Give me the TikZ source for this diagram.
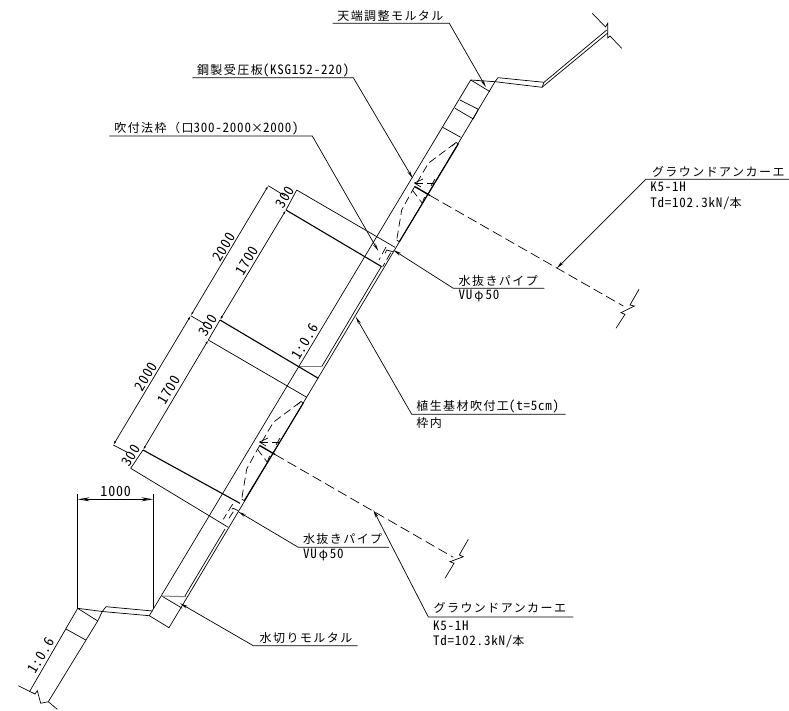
\documentclass[tikz,border=0pt]{standalone}
\usepackage{fontspec}
\usetikzlibrary{arrows.meta}
\newfontfamily\jpfont[LetterSpace=12]{Noto Sans CJK JP}
\newfontfamily\hwfont[RawFeature=+hwid,LetterSpace=6]{Noto Sans CJK JP}
\newcommand{\hw}[1]{{\hwfont\fontsize{13}{14}\selectfont #1}}
\tikzset{
    jplabel/.style={anchor=west, inner sep=0pt, font=\fontsize{12}{14}\selectfont\jpfont},
    numlabel/.style={inner sep=0pt, font=\fontsize{14}{15}\selectfont\hwfont},
    dimlabel/.style={numlabel, rotate=59},
    leader/.style={-{Stealth[open, length=8pt, width=3pt]}},
    dimtip/.style={{Latex[length=4pt, width=2pt]}-{Latex[length=4pt, width=2pt]}},
    bold/.style={line width=1.1pt},
    anchorline/.style={dash pattern=on 10pt off 4.5pt},
    hidden/.style={dash pattern=on 8pt off 4pt}
}

\begin{document}
\begin{tikzpicture}[x=1pt, y=-1pt, line width=0.7pt]
    \useasboundingbox (0,0) rectangle (789,711);

    % slope frame
    \draw (470.7,80) -- (149.3,615.7) -- (169,627.7) -- (495,81.7);
    \draw (470.7,80) -- (490,91.7);
    \draw (460,100) -- (478.3,109.3) -- (473.3,119) -- (455,108.3);
    \draw (442.7,127.3) -- (460.7,137.3);
    \draw (161.7,596) -- (182.3,608.3);
    \draw (321.7,366.7) -- (381,267);
    \draw (184.5,596.7) -- (225,529);
    \draw [gray, line width=1pt] (298,366.7) -- (321.7,366.7);
    \draw [gray, line width=1pt] (161.7,596) -- (186,596.7);

    % top berm
    \draw (470.7,80) -- (495,81.7) -- (542,87.3) -- (607.7,33);
    \draw (495,81.7) -- (498,77.7) -- (544,82.3) -- (606.7,30);
    \draw (544,82.3) -- (542,87.3);
    \draw (592.3,13.3) -- (605.5,27) -- (607.7,23.3) -- (607.7,38) -- (610,36) -- (621.7,48.3);

    % bottom berm
    \draw (149.3,615.7) -- (102.3,611.5) -- (77.7,608.3) -- (29.3,692);
    \draw (152.7,611) -- (106,606.7) -- (102.3,611.5) -- (97.7,621) -- (48.3,701.7);
    \draw (77.7,608.3) -- (97.7,621);
    \draw (66,629) -- (85.7,640);
    \draw (18.3,685.7) -- (35,694) -- (37.3,690.7) -- (40.7,703.3) -- (48.3,701.7) -- (57.3,709.3);

    % beams
    \draw (296.7,190) -- (395,247.3);
    \draw [bold] (286,210) -- (381.7,266.7);
    \draw [bold] (220,320) -- (318.3,378.3);
    \draw (208.3,340) -- (306.7,397.3);
    \draw [bold] (143,450) -- (240,503.3);
    \draw (130.7,468.3) -- (228.3,527.3);

    % dimensions
    \draw (268.3,185.7) -- (285,196);
    \draw (190.7,315.7) -- (205,324);
    \draw (113.3,445) -- (126.7,452);
    \draw [dimtip] (268.3,185.7) -- (190.7,315.7);
    \draw [dimtip] (190.7,315.7) -- (113.3,445);
    \draw (296.7,190) -- (286,210);
    \draw [dimtip] (286,210) -- (220,320);
    \draw (220,320) -- (208.3,340);
    \draw [dimtip] (208.3,340) -- (143,450);
    \draw (143,450) -- (130.7,468.3);
    \draw (77.7,494) -- (77.7,608.3);
    \draw (153.3,494) -- (153.3,608);
    \draw [{Stealth[open, length=12pt, width=4pt]}-{Stealth[open, length=12pt, width=4pt]}] (77.7,499.3) -- (153.3,499.3);

    \node [dimlabel] (dimA) at (224,247.3) {2000};
    \node [dimlabel] (dimB) at (246.7,260.7) {1700};
    \node [dimlabel] (dimC) at (285,197.3) {300};
    \node [dimlabel] (dimD) at (208.3,325.7) {300};
    \node [dimlabel] (dimE) at (146,376.7) {2000};
    \node [dimlabel] (dimF) at (169,390) {1700};
    \node [dimlabel] (dimG) at (130.7,455.7) {300};
    \node [dimlabel] (slopeA) at (305,341.7) {1:0.6};
    \node [dimlabel] (slopeB) at (41,655.7) {1:0.6};
    \node [numlabel] (dimH) at (115.7,491) {1000};

    % upper anchor
    \draw [hidden] (455,143.3) -- (428.3,163.3) -- (411.7,191.7) -- (401.7,210) -- (396.7,240);
    \draw [bold] (399.3,241.7) -- (458.3,144);
    \draw (396.7,240) -- (399.3,241.7);
    \draw (452,146) -- (456,142.5) -- (458.3,144);
    \draw [hidden] (415,183) -- (436,183);
    \draw (423,179) -- (414.5,183) -- (421,187);
    \draw [line width=1.4pt] (415,186.7) -- (430,195.5);
    \draw (435,179) -- (431,186);
    \draw [hidden] (412.3,190) -- (422.3,203.3);
    \draw (422.3,203.3) -- (424.5,197);
    \draw [anchorline] (430,195.5) -- (623.3,306);
    \draw (639,289.3) -- (630,305) -- (634.3,306) -- (621,312.7) -- (625,314.3) -- (616,328.3);

    % lower anchor
    \draw [hidden] (300,402.3) -- (273.3,422.3) -- (256.7,450.7) -- (246.7,469) -- (241.7,499);
    \draw [bold] (244.3,500.7) -- (303.3,403);
    \draw (241.7,499) -- (244.3,500.7);
    \draw (297,405) -- (301,401.5) -- (303.3,403);
    \draw [hidden] (260,442) -- (281,442);
    \draw (268,438) -- (259.5,442) -- (266,446);
    \draw [line width=1.4pt] (260,445.7) -- (275,454.5);
    \draw (280,438) -- (276,445);
    \draw [hidden] (257.3,449) -- (267.3,462.3);
    \draw (267.3,462.3) -- (269.5,456);
    \draw [anchorline] (275,454.5) -- (453.3,557.3);
    \draw (468.3,539.3) -- (459.3,555) -- (463.3,556.7) -- (450,561.7) -- (454,563.3) -- (445,578.3);

    % drain pipes
    \draw [hidden] (386,247) -- (379,260);
    \draw [hidden] (390.7,252.7) -- (382.7,266.7);
    \draw (385,253.3) -- (386.7,250) -- (392.7,251.7);
    \draw [hidden] (232.7,504) -- (223.3,519.3);
    \draw [hidden] (233.3,511.7) -- (226.7,521.7);
    \draw (231.7,509.3) -- (233.3,508.3) -- (238.3,510.7);

    % labels
    \node [jplabel] (crown) at (337,15.7) {天端調整モルタル};
    \node [jplabel] (plate) at (196.7,70.7) {鋼製受圧板\hw{(KSG152-220)}};
    \node [jplabel] (frame) at (114,128) {吹付法枠（口\hw{300-2000}×\hw{2000)}};
    \node [jplabel] (anchorA) at (651.7,171.7) {グラウンドアンカーエ};
    \node [jplabel] (anchorAa) at (650,187.3) {\hw{K5-1H}};
    \node [jplabel] (anchorAb) at (650,203.3) {\hw{Td=102.3kN/}本};
    \node [jplabel] (drainA) at (458.3,280.7) {水抜きパイプ};
    \node [jplabel] (drainAa) at (458.3,296) {\hw{VU}\,φ\,\hw{50}};
    \node [jplabel] (seed) at (416,406) {植生基材吹付工\hw{(t=5cm)}};
    \node [jplabel] (seedA) at (416,422.7) {枠内};
    \node [jplabel] (drainB) at (302.7,539.3) {水抜きパイプ};
    \node [jplabel] (drainBa) at (302.7,555) {\hw{VU}\,φ\,\hw{50}};
    \node [jplabel] (anchorB) at (433.3,608.3) {グラウンドアンカーエ};
    \node [jplabel] (anchorBa) at (432.7,625.7) {\hw{K5-1H}};
    \node [jplabel] (anchorBb) at (432.7,641.7) {\hw{Td=102.3kN/}本};
    \node [jplabel] (cut) at (259.3,638.3) {水切りモルタル};

    % leaders
    \coordinate (crownTip) at (486,87.3);
    \coordinate (plateTip) at (412.7,178.3);
    \coordinate (frameTip) at (378.3,251);
    \coordinate (anchorATip) at (556.7,268.3);
    \coordinate (drainATip) at (393.3,250);
    \coordinate (seedTip) at (355.7,316.7);
    \coordinate (drainBTip) at (238.3,511.7);
    \coordinate (anchorBTip) at (373.3,510);
    \coordinate (cutTip) at (180,603.3);
    \draw [leader] (332.7,23.3) -- (449.3,23.3) -- (crownTip);
    \draw [leader] (192.3,77.7) -- (353.3,77.7) -- (plateTip);
    \draw [leader] (109.3,136) -- (312.3,136) -- (frameTip);
    \draw [leader] (789,179.3) -- (645.7,179.3) -- (anchorATip);
    \draw [leader] (544.3,288.3) -- (453.3,288.3) -- (drainATip);
    \draw [leader] (565.7,414.3) -- (411.7,414.3) -- (seedTip);
    \draw [leader] (389,547.3) -- (298.3,547.3) -- (drainBTip);
    \draw [leader] (573.3,617) -- (428.3,617) -- (anchorBTip);
    \draw [leader] (357.7,645.7) -- (253.3,645.7) -- (cutTip);
\end{tikzpicture}
\end{document}
